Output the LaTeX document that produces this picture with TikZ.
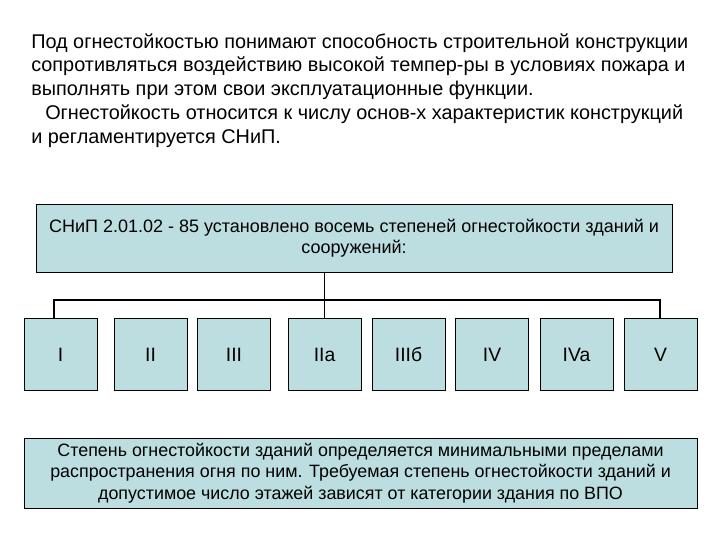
\documentclass[tikz,border=0pt]{standalone}
\usepackage{fontspec}
\setmainfont{Liberation Sans}
\usetikzlibrary{calc, positioning}
\definecolor{boxfill}{RGB}{188,222,224}

\begin{document}
\begin{tikzpicture}[x=0.75pt, y=-0.75pt]

    \useasboundingbox (0,0) rectangle (720,540); % 1 unit = 1 px of the slide

    % intro paragraph, explicit line breaks as on the slide
    \node (intro) [anchor=north west, align=left, inner sep=0pt,
                   font=\fontsize{14.9}{17.9}\selectfont] at (31,33)
        {Под огнестойкостью понимают способность строительной конструкции\\
         сопротивляться воздействию высокой темпер-ры в условиях пожара и\\
         выполнять при этом свои эксплуатационные функции.\\
         \hspace*{10.5pt}Огнестойкость относится к числу основ-х характеристик конструкций\\
         и регламентируется СНиП.};

    % boxes: same fill and outline, sizes fixed per row
    \begin{scope}[every node/.style={draw, fill=boxfill, line width=0.75pt, inner sep=0pt},
                  deg/.style={minimum width=54.75pt, minimum height=54pt,
                              text height=10.5pt, text depth=0pt,
                              font=\fontsize{14.5}{16}\selectfont}]

    \node (snip) [minimum width=477pt, minimum height=51pt, align=center,
                  font=\fontsize{13.5}{16}\selectfont] at (354,238)
        {СНиП 2.01.02 - 85 установлено восемь степеней огнестойкости зданий и\\
         сооружений:};

    \node [deg] (gI)    at (60.5,354)  {I};
    \node [deg] (gII)   at (150.5,354) {II};
    \node [deg] (gIII)  at (234,354)   {III};
    \node [deg] (gIIa)  at (324.5,354) {IIa};
    \node [deg] (gIIIb) at (408.5,354) {IIIб};
    \node [deg] (gIV)   at (492,354)   {IV};
    \node [deg] (gIVa)  at (576.5,354) {IVa};
    \node [deg] (gV)    at (660.5,354) {V};

    \node (note) [minimum width=504.75pt, minimum height=52.5pt, align=center,
                  font=\fontsize{13.4}{16}\selectfont] at (360.5,473)
        {Степень огнестойкости зданий определяется минимальными пределами\\
         распространения огня по ним. Требуемая степень огнестойкости зданий и\\
         допустимое число этажей зависят от категории здания по ВПО};

    \end{scope}

    % tree lines
    \coordinate (barL) at (54,300);
    \coordinate (barR) at (660,300);
    \begin{scope}[every path/.style={draw, line width=0.9pt}]
        \draw (gIIa.north) -- (gIIa.north |- snip.south);
        \draw (gI.north -| barL) -- (barL) -- (barR) -- (barR |- gV.north);
    \end{scope}

\end{tikzpicture}
\end{document}
